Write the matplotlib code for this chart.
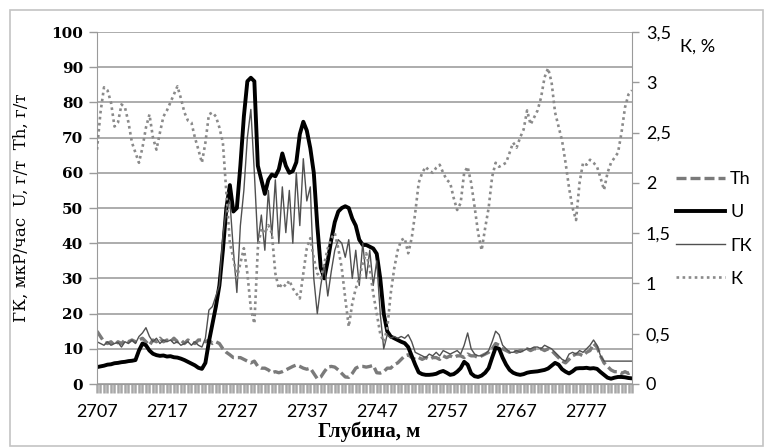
import numpy as np
import matplotlib
matplotlib.use('Agg')
import matplotlib.pyplot as plt
from matplotlib.patches import Rectangle

# depth along the well, m (0.5 m step)
depth = np.arange(2707, 2783.51, 0.5)

# U, g/t
u_vals = [
    4.8, 5.0, 5.2, 5.5, 5.6, 5.9, 6.0, 6.2, 6.3, 6.5,
    6.6, 6.8, 9.5, 11.5, 11.0, 9.5, 8.6, 8.2, 8.0, 8.1,
    7.8, 7.9, 7.6, 7.5, 7.2, 6.8, 6.3, 5.8, 5.3, 4.6,
    4.3, 6.0, 12, 17, 22, 28, 38, 50, 56.5, 49,
    50, 62, 76, 86, 87, 86, 62, 58, 54, 58,
    59.5, 59, 61, 65.5, 62, 60, 60.5, 63, 71, 74.5,
    72, 67, 60, 45, 33, 30, 35, 41, 46, 49,
    50, 50.5, 50, 47, 45, 41, 39.5, 39.5, 39, 38.5,
    37, 30, 20, 15, 13.5, 13, 12.5, 12, 11.6, 10.5,
    8, 5.5, 3.3, 2.8, 2.6, 2.6, 2.7, 2.9, 3.4, 3.7,
    3.2, 2.6, 2.8, 3.5, 4.5, 6.3, 5.5, 3.0, 2.2, 2.0,
    2.4, 3.2, 4.5, 7.5, 10.3, 10.0, 7.5, 5.5, 4.0, 3.2,
    2.8, 2.6, 2.8, 3.2, 3.4, 3.5, 3.6, 3.8, 4.0, 4.4,
    5.2, 6.0, 5.5, 4.2, 3.5, 3.0, 3.6, 4.4, 4.5, 4.5,
    4.6, 4.4, 4.5, 4.3, 3.4, 2.6, 1.8, 1.5, 1.8, 2.0,
    2.0, 1.9, 1.7, 1.6,
]

# GK, mkR/h
gk_vals = [
    12, 11.5, 11, 12, 11, 11.5, 11.8, 10.5, 12, 11.5,
    12.5, 11.5, 13.5, 14.5, 16, 13.5, 12, 13, 11.5, 12.5,
    12, 12.5, 11.5, 12, 11, 11.5, 12, 11, 12, 11,
    10.5, 13, 21, 22, 25, 28, 42, 50, 52, 38,
    26, 45, 55, 70, 78, 60, 40, 48, 38, 55,
    42, 58, 40, 56, 43, 55, 40, 60, 45, 64,
    52, 56, 30, 20, 28, 34, 25, 32, 38, 41,
    40, 36, 41, 30, 38, 28, 40, 30, 38, 28,
    35, 20, 10, 14, 13, 13.5, 13, 13.5, 13, 14,
    12, 9, 8.5, 8, 7.5, 8.5, 8, 9, 8, 9.5,
    9, 8.5, 9, 9.5, 8.5, 11, 14.5, 10, 8.5, 8,
    8, 8.5, 9.5, 12, 15, 14, 11, 10, 9, 9,
    9.5, 9, 9.5, 10, 10, 10.5, 10.5, 10, 11, 10.5,
    10, 9, 8, 7, 6.5, 8.5, 9, 8.5, 9.5, 9,
    10, 11, 12.5, 11, 8, 6.5, 6.5, 6.5, 6.5, 6.5,
    6.5, 6.5, 6.5, 6.5,
]

# Th, g/t
th_vals = [
    15, 13.5, 12, 11.5, 12, 11, 12, 11.5, 12.5, 12,
    12.5, 12, 12.5, 13, 12, 11, 12.5, 12, 13, 12,
    12.5, 12, 13, 12, 12.5, 11.5, 12.5, 12, 11.5, 12.5,
    12.5, 12, 12.5, 11.5, 12, 11.5, 10, 9, 8.3, 7.5,
    7.5, 7.5, 7, 6.5, 6, 6.5, 5, 4.5, 4.5, 4,
    3.2, 3.5, 3.2, 3.5, 4, 4.5, 5, 5.4, 5, 4.5,
    4.2, 4.5, 3, 1.5, 2, 3.5, 4.8, 5, 4.8, 4,
    3, 2, 1.9, 3, 4.5, 5, 5, 4.8, 5, 5.3,
    3.2, 3.1, 3.5, 4.5, 4.5, 5.5, 6, 7, 8, 8.3,
    7.5, 7, 7.5, 7, 7.5, 7, 7.5, 7.5, 7, 8,
    7.5, 8, 7.5, 8, 8, 7.5, 8.5, 8, 8, 7.5,
    8, 8.5, 9, 10, 11.5, 11, 10, 9.5, 9, 9.5,
    9, 9.5, 9.5, 10, 9.5, 10, 10, 10, 9.5, 10,
    9.5, 8.5, 7.5, 6.5, 6, 7, 8, 8.5, 8.5, 8,
    9, 9.5, 11.5, 10.5, 8, 6, 5, 4, 3.5, 3.5,
    3, 3.5, 3, 3.5,
]

# K, %
k_vals = [
    2.33, 2.7, 2.95, 2.92, 2.8, 2.56, 2.6, 2.78, 2.75, 2.6,
    2.4, 2.3, 2.2, 2.35, 2.55, 2.68, 2.45, 2.33, 2.5, 2.66,
    2.72, 2.8, 2.88, 2.96, 2.84, 2.7, 2.62, 2.6, 2.45, 2.33,
    2.2, 2.4, 2.68, 2.7, 2.66, 2.55, 2.4, 1.9, 1.4, 1.25,
    1.06, 1.2, 1.35, 1.1, 0.75, 0.6, 1.35, 1.55, 1.5, 1.58,
    1.5, 1.1, 0.95, 1.0, 0.97, 1.03, 0.95, 0.9, 0.85, 1.1,
    1.35, 1.45, 1.25, 1.1, 1.05, 1.2, 1.35, 1.45, 1.5, 1.35,
    1.15, 0.85, 0.57, 0.8, 0.95, 1.05, 1.2, 1.3, 1.15, 0.9,
    0.7, 0.5, 0.42, 0.55, 0.9, 1.15, 1.33, 1.43, 1.45, 1.3,
    1.45, 1.7, 2.0, 2.1, 2.16, 2.12, 2.1, 2.15, 2.18, 2.1,
    2.03, 2.0, 1.85, 1.73, 1.8, 2.1, 2.16, 2.0, 1.76, 1.5,
    1.33, 1.55, 1.75, 2.06, 2.2, 2.16, 2.18, 2.2, 2.3, 2.4,
    2.35, 2.45, 2.53, 2.72, 2.58, 2.65, 2.72, 2.85, 3.05, 3.14,
    3.0, 2.7, 2.56, 2.42, 2.2, 1.95, 1.75, 1.63, 2.0, 2.2,
    2.18, 2.23, 2.2, 2.16, 2.05, 1.93, 2.1, 2.2, 2.25, 2.3,
    2.5, 2.75, 2.88, 2.92,
]

x_ticks = [2707, 2717, 2727, 2737, 2747, 2757, 2767, 2777]
left_ticks = list(range(0, 101, 10))
k_ticks = [0, 0.5, 1, 1.5, 2, 2.5, 3, 3.5]
k_tick_labels = ['0', '0,5', '1', '1,5', '2', '2,5', '3', '3,5']

W, H = 765, 448
fig = plt.figure(figsize=(W / 100, H / 100), dpi=100)
ax = fig.add_axes([97 / W, 1 - 384 / H, (632 - 97) / W, (384 - 32) / H])
ax2 = ax.twinx()

# chart frame
fig.patches.append(Rectangle((10 / W, 2 / H), (763 - 10) / W, (446 - 10) / H,
                             transform=fig.transFigure, fill=False,
                             edgecolor='#c4c4c4', lw=1.2))

grid_c = '#a6a6a6'
ax.set_ylim(0, 100)
ax.set_xlim(2707, 2783.5)
ax.set_yticks(left_ticks)
ax.grid(axis='y', color=grid_c, lw=1.3)
ax.set_axisbelow(True)

l_th, = ax.plot(depth, th_vals, color='#7a7a7a', lw=2.4, ls=(0, (3, 1.2)))
l_u, = ax.plot(depth, u_vals, color='black', lw=2.8)
l_gk, = ax.plot(depth, gk_vals, color='#505050', lw=1.0)
l_k, = ax2.plot(depth, k_vals, color='#8a8a8a', lw=1.9, ls=(0, (1, 1.3)))

ax.spines['top'].set_visible(False)
ax2.spines['top'].set_visible(False)
ax.spines['right'].set_visible(False)
ax2.spines['left'].set_visible(False)
ax2.spines['bottom'].set_visible(False)
ax.spines['left'].set_color('#9a9a9a')
ax.spines['bottom'].set_color('#9a9a9a')
ax2.spines['right'].set_color('#9a9a9a')

# left axis
ax.tick_params(axis='y', direction='out', length=6, width=1, color='#9a9a9a',
               labelsize=11, pad=4)
for lbl in ax.get_yticklabels():
    lbl.set_fontfamily('DejaVu Serif')
    lbl.set_fontweight('bold')

# depth axis
ax.set_xticks(x_ticks)
ax.set_xticklabels([str(t) for t in x_ticks])
ax.set_xticks(np.arange(2707, 2783.6, 0.5), minor=True)
ax.tick_params(axis='x', which='both', direction='out', length=6.5, width=1.8,
               color='#a8a8a8')
ax.tick_params(axis='x', which='major', labelsize=13, pad=8)
for lbl in ax.get_xticklabels():
    lbl.set_fontfamily('Lato')

# right axis (K)
ax2.set_ylim(0, 3.5)
ax2.set_yticks(k_ticks)
ax2.set_yticklabels(k_tick_labels)
ax2.tick_params(axis='y', direction='out', length=5, width=1, color='#9a9a9a',
                labelsize=13, pad=5)
for lbl in ax2.get_yticklabels():
    lbl.set_fontfamily('Lato')

ax.set_ylabel('ГК, мкР/час  U, г/т  Th, г/т', family='DejaVu Serif', fontsize=12)
ax.yaxis.set_label_coords((30 - 97) / 535, 0.5)
ax.set_xlabel('Глубина, м', family='Liberation Serif', fontweight='bold', fontsize=15)
ax.xaxis.set_label_coords((369 - 97) / 535, (384 - 421) / 352)

fig.text(680 / W, 1 - 47 / H, 'К, %', family='Lato', fontsize=13, va='center')

fig.legend([l_th, l_u, l_gk, l_k], ['Th', 'U', 'ГК', 'К'],
           loc='center left', bbox_to_anchor=(676 / W, 1 - 229 / H),
           frameon=False, prop={'family': 'Lato', 'size': 13},
           handlelength=2.7, handletextpad=0.3, labelspacing=0.95,
           borderaxespad=0, borderpad=0)

fig.savefig('out.png', dpi=100)
